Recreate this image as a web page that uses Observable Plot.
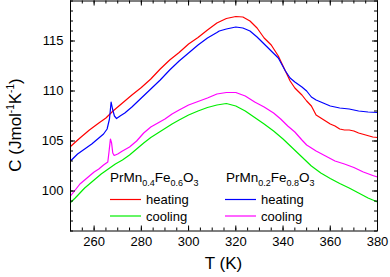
<!DOCTYPE html>
<html><head><meta charset="utf-8">
<script src="https://cdn.jsdelivr.net/npm/d3@7"></script>
<script src="https://cdn.jsdelivr.net/npm/@observablehq/plot@0.6"></script>
<style>body{margin:0;background:#fff} svg{display:block}</style>
</head><body><div id="chart"></div>
<script>
// ---- data ----
const seriesNames = ["Mn0.4 heating", "Mn0.4 cooling", "Mn0.2 heating", "Mn0.2 cooling"];
const seriesColors = ["#ff0000", "#00ee00", "#0000ff", "#ff00ff"];

const heat04T = [250,254,258,262,265,268,272,276,280,284,288,292,296,300,304,308,312,316,320,323,326,329,332,335,338,341,343,345,348,350,352,354,356,358,360,362,364,366,368,370,372,375,378,380];
const heat04C = [104.45,105.3,106.1,106.8,107.3,108.0,108.8,109.6,110.35,111.2,112.2,113.1,113.85,114.7,115.35,116.1,116.8,117.25,117.45,117.4,117.0,116.3,115.3,114.6,113.5,112.0,111.0,110.3,109.6,109.0,108.5,107.6,107.3,107.0,106.7,106.5,106.2,106.1,106.1,106.0,105.8,105.6,105.4,105.35];

const cool04T = [250,252,254,256,258,260,263,266,269,272,275,278,281,284,287,290,293,296,300,304,308,312,316,320,324,328,332,336,340,344,348,352,356,360,364,368,372,376,380];
const cool04C = [98.85,99.3,99.8,100.3,100.7,101.1,101.7,102.2,102.7,103.1,103.6,104.2,104.8,105.35,105.8,106.25,106.7,107.1,107.6,108.0,108.35,108.6,108.75,108.5,108.0,107.35,106.7,106.0,105.2,104.3,103.4,102.5,101.8,101.25,100.75,100.3,99.8,99.3,98.9];

const heat02T = [250,253,256,259,262,264,265.5,266.5,267.2,267.8,268.6,269.5,271,273,276,280,284,288,292,296,300,304,308,312,313,316,320,323,326,329,332,335,338,341,343,345,348,350,352,354,356,358,360,364,368,372,376,380];
const heat02C = [103.0,103.7,104.2,104.7,105.3,105.7,106.2,107.2,108.9,108.2,107.5,107.25,107.5,107.8,108.4,109.3,110.2,111.1,112.1,113.0,113.8,114.6,115.3,115.85,116.0,116.2,116.4,116.3,116.0,115.4,114.7,114.0,113.3,112.0,111.3,110.9,110.4,110.0,109.4,109.1,108.9,108.7,108.5,108.3,108.2,108.0,107.9,107.85];

const cool02T = [250,252,254,256,258,260,262,264,265.8,266.3,266.9,267.4,267.9,268.5,270,272,275,278,281,284,287,290,293,296,300,304,308,312,316,320,324,328,332,336,339,342,345,348,350,354,358,362,366,370,374,378,380];
const cool02C = [99.5,100.1,100.7,101.1,101.5,101.9,102.2,102.6,102.9,103.9,105.2,104.8,103.8,103.55,103.7,104.0,104.4,105.0,105.8,106.4,106.8,107.2,107.7,108.1,108.6,108.95,109.3,109.7,109.85,109.85,109.5,108.9,108.4,107.8,107.2,106.5,105.9,105.1,104.6,104.0,103.5,103.0,102.7,102.35,101.9,101.55,101.4];

const xTickLabels = [260,280,300,320,340,360,380];
const yTickLabels = [100,105,110,115];
const xDomain = [250, 380];
const yDomain = [96, 119];

// ---- build table ----
const seriesT = [heat04T, cool04T, heat02T, cool02T];
const seriesC = [heat04C, cool04C, heat02C, cool02C];
const data = [];
seriesNames.forEach((s, i) => seriesT[i].forEach((t, j) => data.push({s, T: t, C: seriesC[i][j]})));

const W = 390, H = 277;
const mL = 70, mR = 13, mT = 0.5, mB = 46.5;
const innerW = W - mL - mR, innerH = H - mT - mB;
const minorX = d3.range(xDomain[0], xDomain[1] + 0.1, 5);
const minorY = d3.range(yDomain[0], yDomain[1] + 0.1, 1);
const majorX = minorX.filter(v => v % 20 === 0);
const majorY = minorY.filter(v => v % 5 === 0);

const svg = Plot.plot({
  width: W, height: H,
  marginLeft: mL, marginRight: mR, marginTop: mT, marginBottom: mB,
  style: {fontFamily: "'Liberation Sans', Arial, Helvetica, sans-serif", fontSize: "13px", color: "#000", background: "#fff"},
  x: {domain: xDomain},
  y: {domain: yDomain},
  color: {domain: seriesNames, range: seriesColors},
  marks: [
    Plot.line(data, {x: "T", y: "C", z: "s", stroke: "s", strokeWidth: 1.2}),
    // inward ticks: bottom/top
    Plot.ruleX(minorX, {insetTop: innerH - 3, stroke: "#000"}),
    Plot.ruleX(minorX, {insetBottom: innerH - 3, stroke: "#000"}),
    Plot.ruleX(majorX, {insetTop: innerH - 5, stroke: "#000"}),
    Plot.ruleX(majorX, {insetBottom: innerH - 5, stroke: "#000"}),
    // inward ticks: left/right
    Plot.ruleY(minorY, {insetRight: innerW - 3, stroke: "#000"}),
    Plot.ruleY(minorY, {insetLeft: innerW - 3, stroke: "#000"}),
    Plot.ruleY(majorY, {insetRight: innerW - 5, stroke: "#000"}),
    Plot.ruleY(majorY, {insetLeft: innerW - 5, stroke: "#000"}),
    Plot.frame({stroke: "#000", strokeWidth: 1}),
    Plot.axisX({ticks: xTickLabels, tickSize: 0, tickPadding: 6, label: null, fontSize: 13}),
    Plot.axisY({ticks: yTickLabels, tickSize: 0, tickPadding: 7, label: null, fontSize: 13})
  ]
});
document.getElementById("chart").appendChild(svg);

// ---- axis titles & legend (text with sub/superscripts) ----
const S = d3.select(svg);
const font = "'Liberation Sans', Arial, Helvetica, sans-serif";

S.append("text").attr("x", mL + innerW / 2).attr("y", 269)
  .attr("text-anchor", "middle").attr("font-family", font).attr("font-size", 17).attr("fill", "#000")
  .text("T (K)");

const yl = S.append("text").attr("transform", "translate(20.5,125) rotate(-90)")
  .attr("text-anchor", "middle").attr("font-family", font).attr("font-size", 17).attr("fill", "#000");
yl.append("tspan").text("C (Jmol");
yl.append("tspan").attr("dy", -7).attr("font-size", 10).text("-1");
yl.append("tspan").attr("dy", 7).text("K");
yl.append("tspan").attr("dy", -7).attr("font-size", 10).text("-1");
yl.append("tspan").attr("dy", 7).text(")");

function formula(x, y, parts) {
  const t = S.append("text").attr("x", x).attr("y", y).attr("font-family", font)
    .attr("text-anchor", "start").attr("font-size", 13.5).attr("fill", "#000");
  let prevSub = false;
  parts.forEach(([txt, sub]) => {
    if (sub) { t.append("tspan").attr("dy", prevSub ? 0 : 4).attr("font-size", 9).text(txt); prevSub = true; }
    else { t.append("tspan").attr("dy", prevSub ? -4 : 0).text(txt); prevSub = false; }
  });
}
formula(110, 182, [["PrMn"], ["0.4", 1], ["Fe"], ["0.6", 1], ["O"], ["3", 1]]);
formula(226, 182, [["PrMn"], ["0.2", 1], ["Fe"], ["0.8", 1], ["O"], ["3", 1]]);

const legendItems = [
  {x: 110, y: 199.5, color: seriesColors[0], label: "heating"},
  {x: 110, y: 216, color: seriesColors[1], label: "cooling"},
  {x: 225, y: 199.5, color: seriesColors[2], label: "heating"},
  {x: 225, y: 216, color: seriesColors[3], label: "cooling"}
];
legendItems.forEach(d => {
  S.append("line").attr("x1", d.x).attr("x2", d.x + 31).attr("y1", d.y).attr("y2", d.y)
    .attr("stroke", d.color).attr("stroke-width", 1.2);
  S.append("text").attr("x", d.x + 36).attr("y", d.y + 4.5).attr("font-family", font)
    .attr("text-anchor", "start").attr("font-size", 13).attr("fill", "#000").text(d.label);
});
</script>
</body></html>
